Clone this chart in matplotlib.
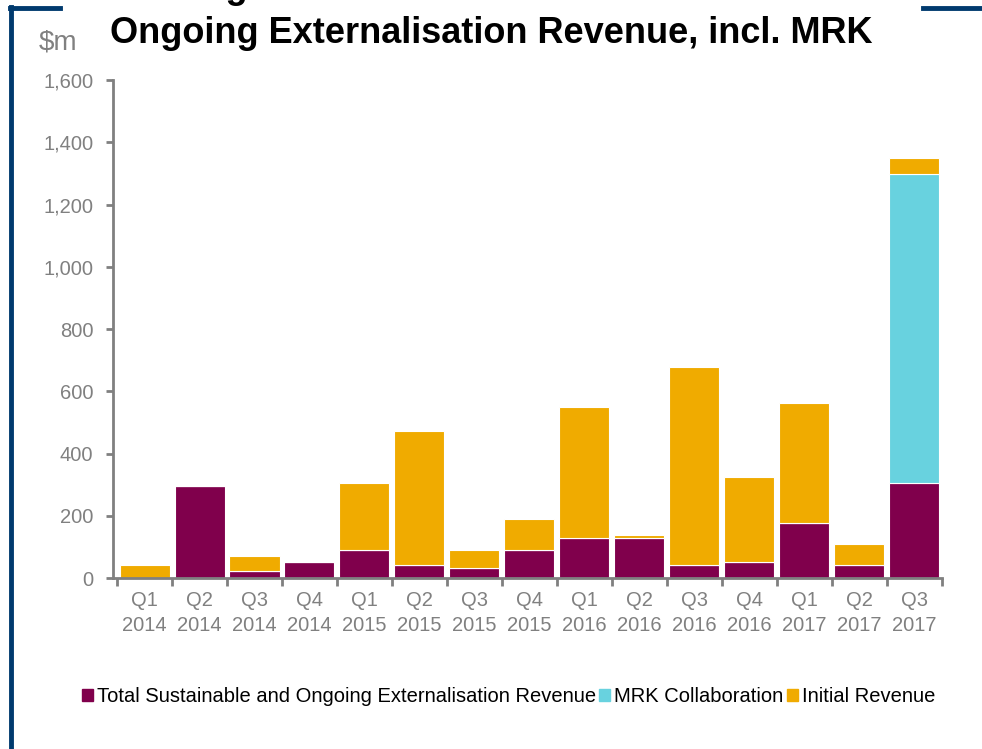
import matplotlib.pyplot as plt
from matplotlib.lines import Line2D
from matplotlib.patches import Patch

plt.rcParams['font.family'] = ['Liberation Sans', 'DejaVu Sans']

quarters = ['Q1\n2014', 'Q2\n2014', 'Q3\n2014', 'Q4\n2014',
            'Q1\n2015', 'Q2\n2015', 'Q3\n2015', 'Q4\n2015',
            'Q1\n2016', 'Q2\n2016', 'Q3\n2016', 'Q4\n2016',
            'Q1\n2017', 'Q2\n2017', 'Q3\n2017']
sustainable = [0, 296, 24, 52, 91, 42, 33, 91, 130, 130, 42, 51, 179, 42, 306]
mrk = [0, 0, 0, 0, 0, 0, 0, 0, 0, 0, 0, 0, 0, 0, 994]
initial = [42, 0, 47, 0, 215, 430, 58, 99, 419, 10, 636, 273, 383, 68, 49]

PURPLE = '#80004C'
CYAN = '#68D2DF'
ORANGE = '#F0AB00'
GREY = '#808080'
NAVY = '#003A6E'

fig = plt.figure(figsize=(9.82, 7.49), dpi=100)
ax = fig.add_axes([0.115, 0.228, 0.844, 0.665])

x = range(len(quarters))
bottom2 = [s + m for s, m in zip(sustainable, mrk)]
ax.bar(x, sustainable, width=0.91, color=PURPLE, edgecolor='white', linewidth=0.8)
ax.bar(x, mrk, width=0.91, bottom=sustainable, color=CYAN,
       edgecolor='white', linewidth=0.8)
ax.bar(x, initial, width=0.91, bottom=bottom2, color=ORANGE,
       edgecolor='white', linewidth=0.8)

ax.set_xlim(-0.575, len(quarters) - 0.5)
ax.set_ylim(0, 1600)
ax.set_yticks(range(0, 1601, 200))
ax.set_yticklabels([f'{v:,}' for v in range(0, 1601, 200)])

ax.set_xticks(list(x))
ax.set_xticklabels(quarters, linespacing=1.4)
ax.set_xticks([i - 0.5 for i in range(len(quarters) + 1)], minor=True)
ax.tick_params(axis='x', which='major', length=0, pad=9,
               labelsize=14.5, labelcolor=GREY)
ax.tick_params(axis='x', which='minor', length=6, width=2, color=GREY,
               direction='out')
ax.tick_params(axis='y', length=5, width=2, color=GREY, pad=9,
               labelsize=14.5, labelcolor=GREY)

for side in ['top', 'right']:
    ax.spines[side].set_visible(False)
for side in ['left', 'bottom']:
    ax.spines[side].set_color(GREY)
    ax.spines[side].set_linewidth(2)

# title: the first line is cut off by the top edge, as in the original slide
fig.text(0.5, 1.003, 'Strong Contribution from Sustainable and',
         ha='center', va='baseline', fontsize=26, fontweight='bold', color='black')
fig.text(0.5, 0.9555, 'Ongoing Externalisation Revenue, incl. MRK',
         ha='center', va='center', fontsize=26, fontweight='bold', color='black')
fig.text(0.039, 0.943, '$m', ha='left', va='center', fontsize=20, color=GREY)

handles = [Patch(color=PURPLE), Patch(color=CYAN), Patch(color=ORANGE)]
labels = ['Total Sustainable and Ongoing Externalisation Revenue',
          'MRK Collaboration', 'Initial Revenue']
fig.legend(handles, labels, loc='center', bbox_to_anchor=(0.518, 0.07),
           ncol=3, frameon=False, fontsize=14.5, handlelength=0.55,
           handleheight=0.55, handletextpad=0.2, columnspacing=0.15)

# navy frame
fig.add_artist(Line2D([0.0115, 0.0115], [0, 0.991], color=NAVY, lw=3.5))
fig.add_artist(Line2D([0.0098, 0.061], [0.9896, 0.9896], color=NAVY, lw=3.5))
fig.add_artist(Line2D([0.94, 1.0], [0.9896, 0.9896], color=NAVY, lw=3.5))

fig.savefig('out.png', dpi=100)
